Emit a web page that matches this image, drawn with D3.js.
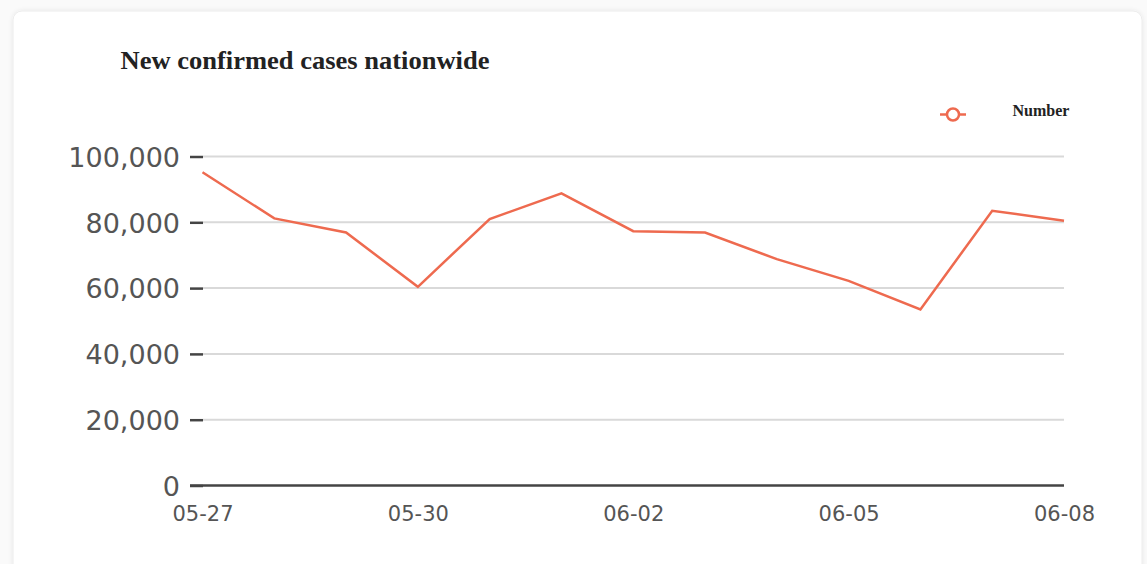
<!DOCTYPE html>
<html>
<head>
<meta charset="utf-8">
<script src="https://cdn.jsdelivr.net/npm/d3@7"></script>
<style>
  html, body { margin: 0; padding: 0; background: #fafafa; }
  svg { display: block; }
</style>
</head>
<body>
<svg id="chart" width="1147" height="564"></svg>
<script>
const dates = ["05-27","05-28","05-29","05-30","05-31","06-01","06-02","06-03","06-04","06-05","06-06","06-07","06-08"];
const values = [95200, 81200, 76900, 60400, 81000, 88800, 77300, 76900, 68800, 62200, 53500, 83500, 80500];
const yTicks = [0, 20000, 40000, 60000, 80000, 100000];
const xTickLabels = ["05-27","05-30","06-02","06-05","06-08"];
const seriesName = "Number";
const titleText = "New confirmed cases nationwide";

const svg = d3.select("#chart");
const lineColor = "#ee6a4f";

// card
const defs = svg.append("defs");
const f = defs.append("filter").attr("id","sh").attr("x","-5%").attr("y","-5%").attr("width","110%").attr("height","110%");
f.append("feDropShadow").attr("dx",0).attr("dy",0).attr("stdDeviation",2).attr("flood-color","#000").attr("flood-opacity",0.08);
svg.append("rect").attr("x",13).attr("y",11).attr("width",1129).attr("height",600)
  .attr("rx",9).attr("fill","#fff").attr("stroke","#ececec").attr("filter","url(#sh)");

const x = d3.scalePoint().domain(dates).range([202.5, 1064]);
const y = d3.scaleLinear().domain([0, 100000]).range([485.5, 156.5]);

// gridlines
svg.append("g").selectAll("line").data(yTicks.filter(d => d > 0)).join("line")
  .attr("x1", 203).attr("x2", 1064)
  .attr("y1", d => y(d)).attr("y2", d => y(d))
  .attr("stroke", "#d9d9d9").attr("stroke-width", 2);

// y axis
const yAxis = svg.append("g").attr("transform","translate(203,0)")
  .call(d3.axisLeft(y).tickValues(yTicks).tickFormat(d3.format(",")).tickSize(13).tickPadding(10));
yAxis.select(".domain").remove();
yAxis.selectAll(".tick line").attr("stroke","#444").attr("stroke-width",2.5);
yAxis.selectAll(".tick text").attr("fill","#555").attr("font-family","DejaVu Sans, sans-serif").attr("font-size",27).attr("dy","0.36em");

// baseline
svg.append("line").attr("x1",190).attr("x2",1064).attr("y1",y(0)).attr("y2",y(0))
  .attr("stroke","#444").attr("stroke-width",2.5);

// x axis
const xAxis = svg.append("g").attr("transform", `translate(0,${y(0)})`)
  .call(d3.axisBottom(x).tickValues(xTickLabels).tickSize(0).tickPadding(21));
xAxis.select(".domain").remove();
xAxis.selectAll(".tick text").attr("fill","#555").attr("font-family","DejaVu Sans, sans-serif").attr("font-size",21);

// line
const line = d3.line().x((d,i) => x(dates[i])).y(d => y(d));
svg.append("path").datum(values).attr("d", line)
  .attr("fill","none").attr("stroke",lineColor).attr("stroke-width",2.5).attr("stroke-linejoin","miter");

// title
svg.append("text").attr("x",120.5).attr("y",68.5).text(titleText)
  .attr("font-family","Liberation Serif, Times New Roman, serif").attr("font-weight","bold")
  .attr("font-size",26).attr("fill","#222")
  .attr("textLength",369).attr("lengthAdjust","spacingAndGlyphs");

// legend
const lg = svg.append("g").attr("transform","translate(953,114.5)");
lg.append("line").attr("x1",-13).attr("x2",13).attr("stroke",lineColor).attr("stroke-width",2.5);
lg.append("circle").attr("r",6).attr("fill","#fff").attr("stroke",lineColor).attr("stroke-width",2.5);
svg.append("text").attr("x",1012.5).attr("y",115.5).text(seriesName)
  .attr("font-family","Liberation Serif, Times New Roman, serif").attr("font-weight","bold")
  .attr("font-size",16.5).attr("fill","#222")
  .attr("textLength",57).attr("lengthAdjust","spacingAndGlyphs");
</script>
</body>
</html>
